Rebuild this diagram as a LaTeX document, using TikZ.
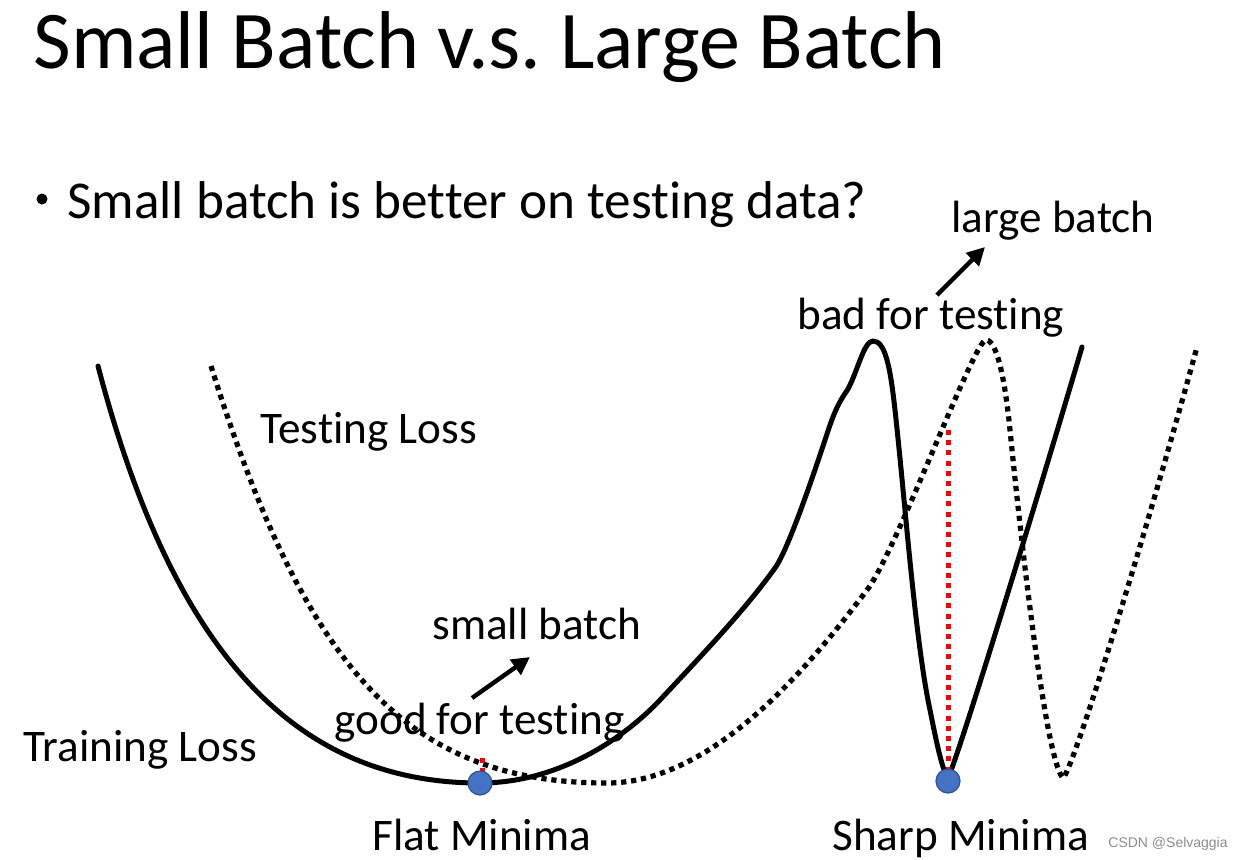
\documentclass[tikz,border=0pt]{standalone}
\usepackage{fontspec}
\setmainfont{Carlito}[RawFeature={-liga;-clig}]
\newfontfamily\wmfont{Liberation Sans}
\usetikzlibrary{arrows.meta}
\definecolor{dotblue}{HTML}{4472C4}
\definecolor{dotedge}{HTML}{2F528F}
\frenchspacing
\begin{document}
\begin{tikzpicture}[x=0.5pt,y=-0.5pt,
  lbl/.style={font=\fontsize{22.6}{26}\selectfont, anchor=base west, inner sep=0pt},
  trainc/.style={line width=2.5pt, line cap=round, line join=round},
  testc/.style={line width=2.6pt, dash pattern=on 2.6pt off 2.4pt},
  redc/.style={line width=2.5pt, red, dash pattern=on 2.5pt off 2.6pt},
  mindot/.style={circle, fill=dotblue, draw=dotedge, line width=0.6pt, minimum size=12pt, inner sep=0pt},
  arr/.style={line width=2.2pt, -{Triangle[length=9pt,width=9pt]}}]
\useasboundingbox (0,0) rectangle (1242,859);
% title
\node[anchor=base west, inner sep=0pt, font=\fontsize{41}{48}\selectfont] (title) at (33,68) {Small Batch v.s. Large Batch};
\node[circle, fill=black, inner sep=0pt, minimum size=5.5pt] (bdot) at (42,199) {};
\node[anchor=base west, inner sep=0pt, font=\fontsize{26.6}{32}\selectfont] (bullet) at (67,218) {Small batch is better on testing data?};
% training loss curve
\draw[trainc] (98,366) .. controls (175,660) and (300,783) .. (480,783)
  .. controls (560,783) and (625,737) .. (660,700)
  .. controls (700,657) and (745,610) .. (775,568)
  .. controls (790,547) and (820,455) .. (830,425)
  .. controls (837,405) and (842,398) .. (848,389)
  .. controls (858,370) and (864,341) .. (873,341)
  .. controls (885,341) and (890,365) .. (895,410)
  .. controls (905,500) and (915,640) .. (930,710)
  .. controls (936,740) and (942,770) .. (948,778)
  .. controls (958,758) and (1040,490) .. (1082,347);
% testing loss curve
\draw[testc] (211,366) .. controls (306,670) and (407,783) .. (607,783)
  .. controls (717,783) and (817,656) .. (867,590)
  .. controls (897,550) and (974,340) .. (986,340)
  .. controls (997,340) and (1005,380) .. (1010,430)
  .. controls (1020,530) and (1045,760) .. (1063,778)
  .. controls (1072,772) and (1140,555) .. (1197,347);
% red dotted
\coordinate (fr1) at (482,758);
\coordinate (fr2) at (482,776);
\coordinate (sr1) at (948,430);
\coordinate (sr2) at (948,772);
\draw[redc] (fr1) -- (fr2);
\draw[redc] (sr1) -- (sr2);
% minima dots
\node[mindot] (flat) at (480,783) {};
\node[mindot] (sharp) at (948,781) {};
% arrows
\coordinate (sa1) at (472,698);
\coordinate (sa2) at (530,657);
\coordinate (la1) at (937,295);
\coordinate (la2) at (985,247);
\draw[arr] (sa1) -- (sa2);
\draw[arr] (la1) -- (la2);
% labels
\node[lbl] (lb) at (951,232) {large batch};
\node[lbl] (bft) at (797,329) {bad for testing};
\node[lbl] (tl) at (260,443) {Testing Loss};
\node[lbl] (sb) at (432,639) {small batch};
\node[lbl] (gft) at (334,734) {good for testing};
\node[lbl] (trl) at (23,761) {Training Loss};
\node[lbl] (fm) at (372,850) {Flat Minima};
\node[lbl] (sm) at (832,850) {Sharp Minima};
\node[anchor=base west, inner sep=0pt, font=\wmfont\fontsize{7}{8}\selectfont, text=black!45] (wm) at (1108,847) {CSDN @Selvaggia};
\end{tikzpicture}
\end{document}
